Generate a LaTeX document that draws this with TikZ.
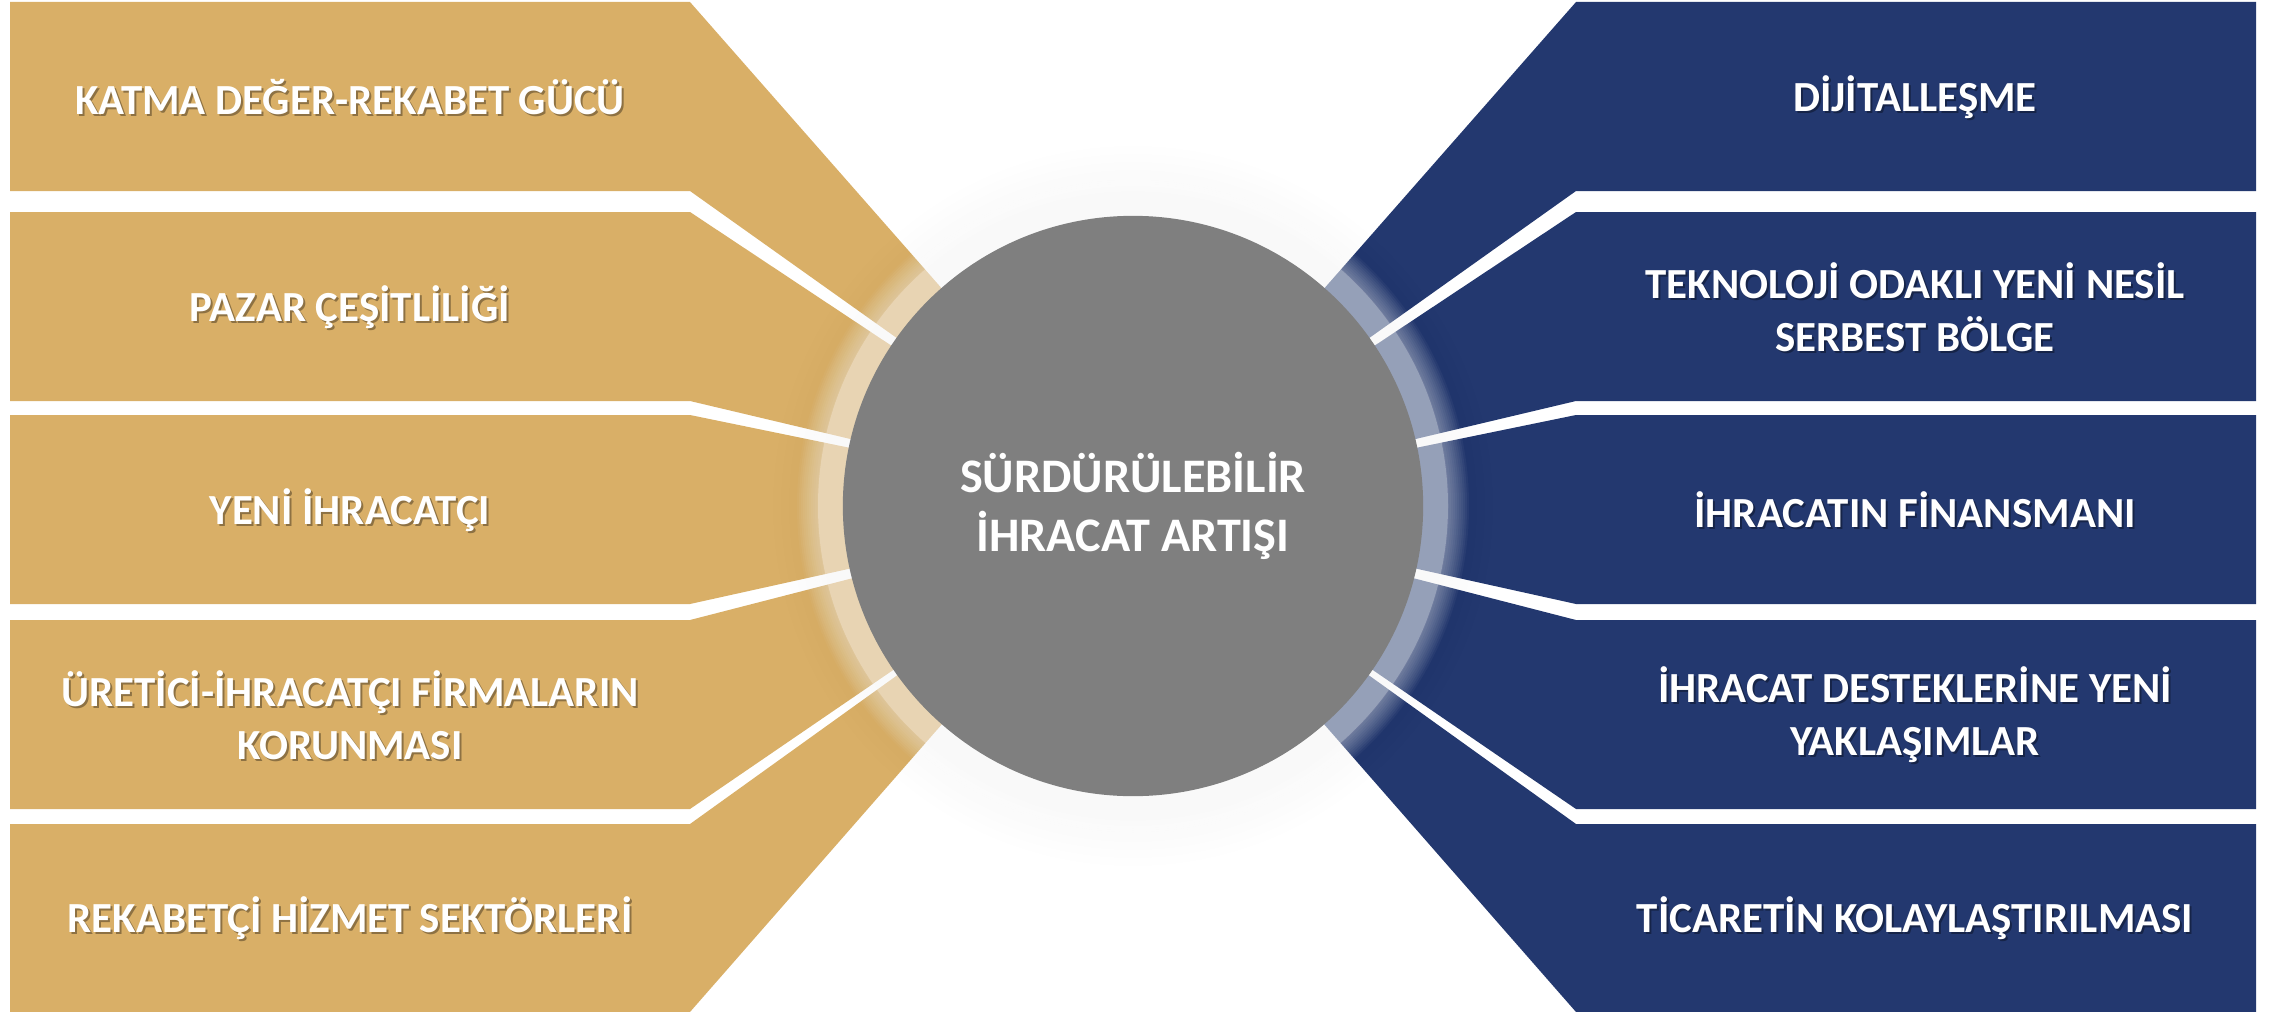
\documentclass[tikz,border=0pt]{standalone}
\usepackage{fontspec}
\setmainfont{Carlito}
\usepackage{tikz}
\usetikzlibrary{positioning}

\definecolor{gold}{HTML}{D9AF67}
\definecolor{navy}{HTML}{23386F}
\definecolor{hubgray}{HTML}{7F7F7F}

\begin{document}
\begin{tikzpicture}[x=0.01cm, y=-0.01cm,
    itemtext/.style={text=white, font=\bfseries\fontsize{12.2}{15}\selectfont, align=center, inner sep=0pt},
    itemshadow/.style={itemtext, text=black, opacity=0.35},
    hubtext/.style={text=white, font=\bfseries\fontsize{13.7}{17}\selectfont, align=center}]
    \useasboundingbox (0,0) rectangle (2272,1012);
    \coordinate (c) at (1133,506);

    % fan of bands, all edges point to the hub centre
    \foreach \t/\b in {2/191, 212/401, 415/604, 620/809, 824/1012} {
      \fill [gold] (10,\t) -- (690,\t) -- (c) -- (690,\b) -- (10,\b) -- cycle;
      \fill [navy] (2256,\t) -- (1576,\t) -- (c) -- (1576,\b) -- (2256,\b) -- cycle;
    }

    % soft halo round the hub
    \foreach \r in {360,352,...,320} \fill [black, opacity=0.003] (c) circle (\r);
    \fill [white, opacity=0.28] (c) circle (315);
    \foreach \r in {316,318,...,336} \fill [white, opacity=0.045] (c) circle (\r);

    \node [circle, fill=hubgray, minimum size=5.8cm, hubtext] (hub) at (c) {SÜRDÜRÜLEBİLİR\\İHRACAT ARTIŞI};

    \foreach \n/\x/\y/\txt in {
        katma/350/97/{KATMA DEĞER-REKABET GÜCÜ},
        pazar/350/307/{PAZAR ÇEŞİTLİLİĞİ},
        yeni/350/510/{YENİ İHRACATÇI},
        uretici/350/715/{ÜRETİCİ-İHRACATÇI FİRMALARIN\\KORUNMASI},
        hizmet/350/918/{REKABETÇİ HİZMET SEKTÖRLERİ},
        dijital/1915/97/{DİJİTALLEŞME},
        serbest/1915/307/{TEKNOLOJİ ODAKLI YENİ NESİL\\SERBEST BÖLGE},
        finans/1915/510/{İHRACATIN FİNANSMANI},
        destek/1915/715/{İHRACAT DESTEKLERİNE YENİ\\YAKLAŞIMLAR},
        ticaret/1915/918/{TİCARETİN KOLAYLAŞTIRILMASI}} {
      \node [itemshadow] (\n-s) at (\x+2,\y+2) {\txt};
      \node [itemtext] (\n) at (\x,\y) {\txt};
    }
\end{tikzpicture}
\end{document}
